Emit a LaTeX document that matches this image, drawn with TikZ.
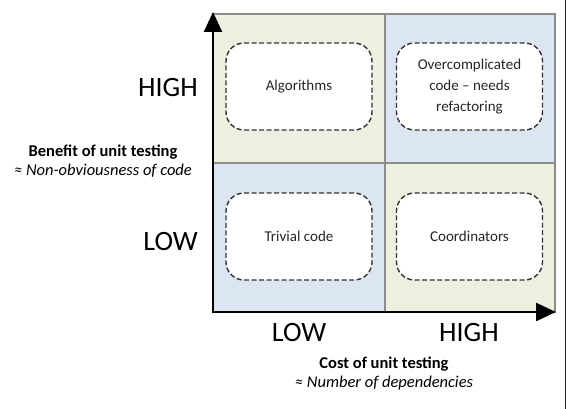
\documentclass[tikz,border=0pt]{standalone}
\usepackage{fontspec}
\setmainfont{Carlito}
\usetikzlibrary{arrows.meta}
\definecolor{qgreen}{HTML}{EBF1DE}
\definecolor{qblue}{HTML}{DCE6F2}
\definecolor{qborder}{HTML}{8C8C8C}
\begin{document}
\begin{tikzpicture}[x=1pt,y=-1pt,
  quad/.style={draw=qborder,line width=1.2pt},
  cbox/.style={draw=black!80,fill=white,dash pattern=on 5pt off 2.5pt,line width=1.4pt,
    rounded corners=18pt,minimum width=146pt,minimum height=87pt,inner sep=0pt,
    align=center,font=\fontsize{15}{21}\selectfont,text=black!85},
  big/.style={font=\fontsize{28}{30}\selectfont,inner sep=0pt},
  lbl/.style={font=\fontsize{16.5}{19}\selectfont,inner sep=0pt,align=center},
  axis/.style={line width=2.4pt,-{Triangle[width=18pt,length=20pt]}}]
\useasboundingbox (0,0) rectangle (567,409);
\fill[white] (0,0) rectangle (567,409);
% quadrants
\filldraw[quad,fill=qgreen] (213,14) rectangle (385,163);
\filldraw[quad,fill=qblue] (385,14) rectangle (555,163);
\filldraw[quad,fill=qblue] (213,163) rectangle (385,312);
\filldraw[quad,fill=qgreen] (385,163) rectangle (555,312);
% boxes
\node[cbox] (alg) at (299,86.5) {Algorithms};
\node[cbox] (over) at (469.5,86.5) {Overcomplicated\\code -- needs\\refactoring};
\node[cbox] (triv) at (299,236.5) {Trivial code};
\node[cbox] (coord) at (469.5,236.5) {Coordinators};
% axes
\coordinate (O) at (213,312);
\coordinate (ytip) at (213,12);
\coordinate (xtip) at (556,312);
\draw[axis] ([yshift=1.2pt]O) -- (ytip);
\draw[axis] ([xshift=-1.2pt]O) -- (xtip);
% labels
\node[big,anchor=east] (yhigh) at (198,88) {HIGH};
\node[big,anchor=east] (ylow) at (198,242) {LOW};
\node[big] (xlow) at (299,333) {LOW};
\node[big] (xhigh) at (469,333) {HIGH};
\node[lbl] (ylab) at (103,161.5) {\textbf{Benefit of unit testing}\\\textit{≈ Non-obviousness of code}};
\node[lbl] (xlab) at (384,374) {\textbf{Cost of unit testing}\\\textit{≈ Number of dependencies}};
% right frame line
\draw[line width=1.5pt,black!85] (565.5,0) -- (565.5,409);
\end{tikzpicture}
\end{document}
